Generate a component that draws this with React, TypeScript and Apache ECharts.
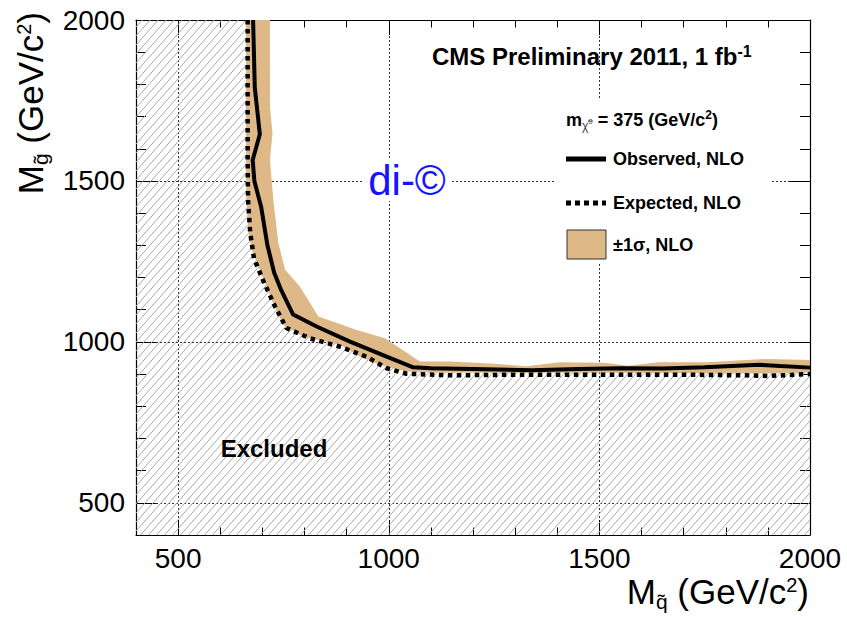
import React, { useEffect, useRef } from 'react';
import * as echarts from 'echarts';

const FONT = "'Liberation Sans', Arial, Helvetica, sans-serif";
const BAND_COLOR = '#deb887';

// axis range (GeV/c^2)
const axisMin = 400;
const axisMax = 2000;

// observed limit, NLO  [M_squark, M_gluino]
const observed: number[][] = [
  [678, 2000], [682, 1790], [694, 1645], [677, 1565], [681, 1500], [697, 1420],
  [712, 1300], [728, 1215], [745, 1160], [773, 1085], [830, 1047], [908, 1001],
  [995, 954], [1058, 921], [1100, 918], [1200, 916], [1340, 912], [1450, 916],
  [1550, 918], [1650, 917], [1750, 921], [1880, 929], [1930, 925], [2000, 920],
];

// expected limit, NLO
const expected: number[][] = [
  [665, 2000], [665, 1750], [665, 1565], [666, 1440], [671, 1340], [680, 1260],
  [702, 1190], [730, 1110], [757, 1043], [813, 1011], [884, 985], [947, 954],
  [995, 918], [1042, 901], [1145, 896], [1300, 898], [1500, 898], [1700, 898],
  [1850, 896], [1900, 894], [2000, 900],
];

// +-1 sigma band edges
const bandUpper: number[][] = [
  [718, 2000], [718, 1730], [724, 1648], [718, 1565], [726, 1440], [738, 1307],
  [754, 1224], [789, 1172], [806, 1136], [833, 1079], [924, 1037], [991, 1011],
  [1074, 939], [1145, 939], [1252, 932], [1326, 924], [1406, 937], [1511, 935],
  [1568, 926], [1640, 937], [1753, 937], [1898, 947], [2000, 944],
];
const bandLower: number[][] = [
  [661, 2000], [661, 1565], [662, 1440], [667, 1340], [675, 1286], [694, 1224],
  [722, 1130], [749, 1053], [797, 1016], [884, 991], [932, 954], [979, 929],
  [1042, 908], [1145, 904], [1500, 904], [1900, 902], [2000, 906],
];

const bandPolygon: number[][] = [...bandUpper, ...bandLower.slice().reverse()];
const excludedEdge: number[][] = [[axisMin, axisMax], ...observed];

type Seg = { t: string; size: number; dy?: number; bold?: boolean; color?: string };

function makeHatch() {
  const w = 8;
  const h = 9;
  const c = document.createElement('canvas');
  c.width = w;
  c.height = h;
  const ctx = c.getContext('2d')!;
  ctx.strokeStyle = '#a9a9a9';
  ctx.lineWidth = 1;
  ctx.beginPath();
  ctx.moveTo(0, h); ctx.lineTo(w, 0);
  ctx.moveTo(-w, h); ctx.lineTo(0, 0);
  ctx.moveTo(w, 2 * h); ctx.lineTo(2 * w, h);
  ctx.stroke();
  return { image: c, repeat: 'repeat', imageWidth: w, imageHeight: h };
}

function richGroup(segs: Seg[], x: number, y: number, align: 'left' | 'right' | 'center', rotation = 0) {
  const ctx = document.createElement('canvas').getContext('2d')!;
  const widths = segs.map((s) => {
    ctx.font = `${s.bold ? 'bold ' : ''}${s.size}px ${FONT}`;
    return ctx.measureText(s.t).width;
  });
  const total = widths.reduce((a, b) => a + b, 0);
  let cx = align === 'right' ? -total : align === 'center' ? -total / 2 : 0;
  const children = segs.map((s, i) => {
    const el = {
      type: 'text', x: cx, y: s.dy || 0, z: 10, silent: true,
      style: {
        text: s.t, fontSize: s.size, fontWeight: s.bold ? 'bold' : 'normal', fontFamily: FONT,
        fill: s.color || '#000', align: 'left', verticalAlign: 'middle',
      },
    };
    cx += widths[i];
    return el;
  });
  return { type: 'group', x, y, rotation, z: 10, children };
}

export default function App() {
  const ref = useRef<HTMLDivElement>(null);

  useEffect(() => {
    document.body.style.margin = '0';
    const chart = echarts.init(ref.current!, undefined, { renderer: 'svg' });
    const hatch = makeHatch();

    const labelFmt = (v: number) => (v === axisMin ? '' : String(v));
    const frameLine = { show: true, onZero: false, lineStyle: { color: '#000', width: 1.2 } };
    const gridLine = { show: true, lineStyle: { color: '#333', type: [2, 2] as any, width: 1 } };

    const xCommon = { type: 'value', min: axisMin, max: axisMax, splitNumber: 3 };
    const yCommon = { type: 'value', min: axisMin, max: axisMax, splitNumber: 3 };

    const option: any = {
      animation: false,
      grid: { left: 136, right: 37, top: 20, bottom: 82, containLabel: false },
      xAxis: [
        {
          ...xCommon, position: 'bottom',
          axisLine: frameLine,
          axisTick: { show: true, inside: true, length: 15, lineStyle: { color: '#000', width: 1 } },
          minorTick: { show: true, splitNumber: 5, length: 7.5, lineStyle: { color: '#000', width: 1 } },
          axisLabel: { margin: 9, fontSize: 28, fontFamily: FONT, color: '#000', formatter: labelFmt },
          splitLine: gridLine,
        },
        {
          ...xCommon, position: 'top',
          axisLine: frameLine,
          axisTick: { show: true, inside: true, length: 15, lineStyle: { color: '#000', width: 1 } },
          minorTick: { show: true, splitNumber: 5, length: 7.5, lineStyle: { color: '#000', width: 1 } },
          axisLabel: { show: false },
          splitLine: { show: false },
        },
      ],
      yAxis: [
        {
          ...yCommon, position: 'left',
          axisLine: frameLine,
          axisTick: { show: true, inside: true, length: 20, lineStyle: { color: '#000', width: 1 } },
          minorTick: { show: true, splitNumber: 5, length: 10, lineStyle: { color: '#000', width: 1 } },
          axisLabel: { margin: 11, fontSize: 28, fontFamily: FONT, color: '#000', formatter: labelFmt },
          splitLine: gridLine,
        },
        {
          ...yCommon, position: 'right',
          axisLine: frameLine,
          axisTick: { show: true, inside: true, length: 20, lineStyle: { color: '#000', width: 1 } },
          minorTick: { show: true, splitNumber: 5, length: 10, lineStyle: { color: '#000', width: 1 } },
          axisLabel: { show: false },
          splitLine: { show: false },
        },
      ],
      series: [
        {
          name: 'Excluded',
          type: 'line',
          xAxisIndex: 0, yAxisIndex: 0,
          data: excludedEdge,
          symbol: 'none',
          lineStyle: { width: 0, opacity: 0 },
          areaStyle: { color: hatch, opacity: 1, origin: 'start' },
          silent: true,
          z: 2,
        },
        {
          name: '±1σ, NLO',
          type: 'custom',
          xAxisIndex: 0, yAxisIndex: 0,
          data: [[1000, 1000]],
          clip: true,
          silent: true,
          z: 3,
          renderItem: (_params: any, api: any) => ({
            type: 'polygon',
            shape: { points: bandPolygon.map((p) => api.coord(p)) },
            style: { fill: BAND_COLOR, stroke: null },
          }),
        },
        {
          name: 'Expected, NLO',
          type: 'line',
          xAxisIndex: 0, yAxisIndex: 0,
          data: expected,
          symbol: 'none',
          lineStyle: { color: '#000', width: 4.5, type: [4.5, 4.5], cap: 'butt' },
          silent: true,
          z: 4,
        },
        {
          name: 'Observed, NLO',
          type: 'line',
          xAxisIndex: 0, yAxisIndex: 0,
          data: observed,
          symbol: 'none',
          lineStyle: { color: '#000', width: 4 },
          silent: true,
          z: 5,
        },
      ],
      graphic: [
        // legend background
        { type: 'rect', z: 1, silent: true, shape: { x: 556, y: 98, width: 216, height: 166 }, style: { fill: '#fff' } },
        richGroup([
          { t: 'CMS Preliminary 2011, 1 fb', size: 24, bold: true },
          { t: '-1', size: 16, bold: true, dy: -5 },
        ], 432, 56, 'left'),
        richGroup([
          { t: 'm', size: 18, bold: true },
          { t: 'χ̃', size: 12, dy: 6, color: '#444' },
          { t: '0', size: 8, dy: 1, color: '#444' },
          { t: ' = 375 (GeV/c', size: 18, bold: true },
          { t: '2', size: 12, bold: true, dy: -5 },
          { t: ')', size: 18, bold: true },
        ], 566, 120, 'left'),
        { type: 'line', z: 10, shape: { x1: 566, y1: 159, x2: 606, y2: 159 }, style: { stroke: '#000', lineWidth: 5 } },
        {
          type: 'text', x: 613, y: 159, z: 10,
          style: { text: 'Observed, NLO', fontSize: 18, fontWeight: 'bold', fontFamily: FONT, fill: '#000', align: 'left', verticalAlign: 'middle' },
        },
        { type: 'line', z: 10, shape: { x1: 566, y1: 203, x2: 606, y2: 203 }, style: { stroke: '#000', lineWidth: 5, lineDash: [5, 4] } },
        {
          type: 'text', x: 613, y: 203, z: 10,
          style: { text: 'Expected, NLO', fontSize: 18, fontWeight: 'bold', fontFamily: FONT, fill: '#000', align: 'left', verticalAlign: 'middle' },
        },
        { type: 'rect', z: 10, shape: { x: 567, y: 230, width: 39, height: 29 }, style: { fill: BAND_COLOR, stroke: '#333', lineWidth: 1 } },
        {
          type: 'text', x: 613, y: 245, z: 10,
          style: { text: '±1σ, NLO', fontSize: 18, fontWeight: 'bold', fontFamily: FONT, fill: '#000', align: 'left', verticalAlign: 'middle' },
        },
        // watermark
        {
          type: 'text', x: 407, y: 180, z: 10,
          style: {
            text: 'di-©', fontSize: 42, fontFamily: FONT, fill: '#1414ff',
            align: 'center', verticalAlign: 'middle', backgroundColor: '#fff', padding: [0, 5],
          },
        },
        {
          type: 'text', x: 274, y: 448, z: 10,
          style: { text: 'Excluded', fontSize: 24, fontWeight: 'bold', fontFamily: FONT, fill: '#000', align: 'center', verticalAlign: 'middle' },
        },
        // x axis title
        richGroup([
          { t: 'M', size: 35 },
          { t: 'q̃', size: 21, dy: 10 },
          { t: ' (GeV/c', size: 35 },
          { t: '2', size: 20, dy: -6 },
          { t: ')', size: 35 },
        ], 809, 591, 'right'),
        // y axis title (rotated, reads bottom to top)
        richGroup([
          { t: 'M', size: 35 },
          { t: 'g̃', size: 21, dy: 10 },
          { t: ' (GeV/c', size: 35 },
          { t: '2', size: 20, dy: -6 },
          { t: ')', size: 35 },
        ], 30, 12, 'right', Math.PI / 2),
      ],
    };

    chart.setOption(option);
    return () => chart.dispose();
  }, []);

  return <div ref={ref} style={{ width: 847, height: 617 }} />;
}
